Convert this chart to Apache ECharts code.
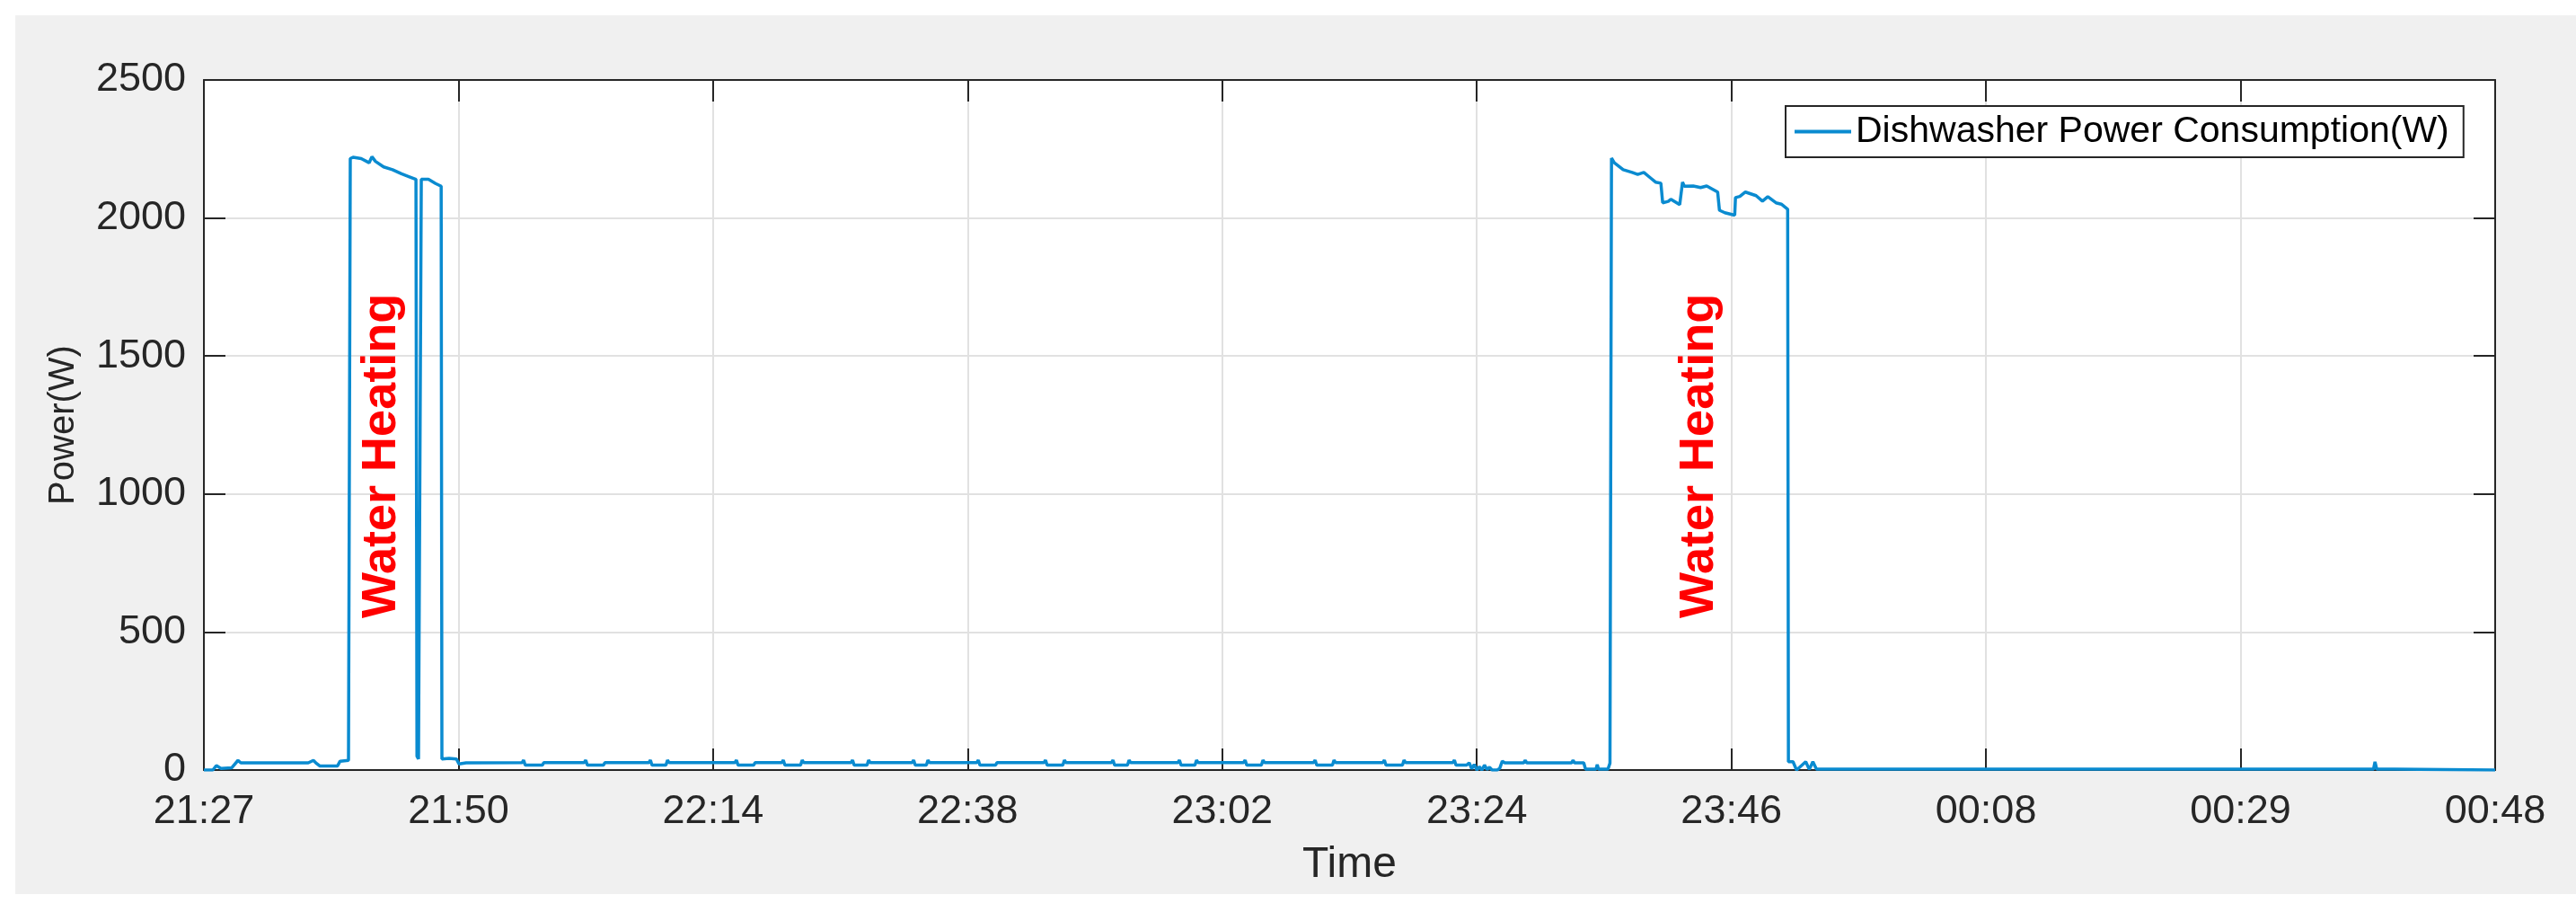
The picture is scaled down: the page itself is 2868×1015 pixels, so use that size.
<!DOCTYPE html>
<html>
<head>
<meta charset="utf-8">
<title>Dishwasher Power Consumption</title>
<script src="https://cdn.jsdelivr.net/npm/echarts/dist/echarts.min.js"></script>
<style>
    html, body { margin: 0; padding: 0; background: #ffffff; }
    #chart { position: absolute; left: 17px; top: 17px; width: 2851px; height: 978px; }
</style>
</head>
<body>
<div id="chart"></div>
<script>
    // x axis = sample index (0..900), ticks every 100 samples carry these clock labels
    const xTickLabels = ['21:27', '21:50', '22:14', '22:38', '23:02', '23:24', '23:46', '00:08', '00:29', '00:48']

    // [sample, watts]
    const startIdle = [
        [0, 0], [3.5, 0], [4.9, 16], [6.7, 6], [10.9, 8], [13.4, 35], [14.5, 26], [41, 26], [43, 35], [44, 26],
        [45.5, 15], [52.5, 15], [53.5, 32], [56.8, 35]
    ]
    const heatingOne = [
        [57.5, 2215], [58.6, 2220], [61.8, 2215], [64.9, 2200], [66, 2222], [67.4, 2205], [70.6, 2185], [74.1, 2175],
        [77.6, 2160], [80.5, 2150], [83.3, 2140], [83.7, 50], [84.3, 40], [85, 40], [85.4, 2140], [88.2, 2140],
        [91, 2125], [93.2, 2115]
    ]
    const idleBetween = [
        [93.5, 40], [96.3, 42], [99.2, 40], [100.2, 22], [103, 26],
        [125, 27], [125.6, 36], [126.2, 18], [133, 18], [133.5, 27],
        [149.4, 27], [150, 36], [150.6, 18], [157, 18], [157.5, 27],
        [174.8, 27], [175.4, 36], [176, 18], [181.5, 18], [182.1, 36], [182.7, 27],
        [208.6, 27], [209.2, 36], [209.8, 18], [216, 18], [216.5, 27],
        [227, 27], [227.6, 36], [228.2, 18], [234.4, 18], [235, 36], [235.6, 27],
        [254.2, 27], [254.8, 36], [255.4, 18], [260.5, 18], [261.1, 36], [261.7, 27],
        [278.2, 27], [278.8, 36], [279.4, 18], [283.8, 18], [284.4, 36], [285, 27],
        [303.6, 27], [304.2, 36], [304.8, 18], [311, 18], [311.5, 27],
        [330, 27], [330.6, 36], [331.2, 18], [337.4, 18], [338, 36], [338.6, 27],
        [356.5, 27], [357.1, 36], [357.7, 18], [362.8, 18], [363.4, 36], [364, 27],
        [382.6, 27], [383.2, 36], [383.8, 18], [389.3, 18], [389.9, 36], [390.5, 27],
        [408.4, 27], [409, 36], [409.6, 18], [415.4, 18], [416, 36], [416.6, 27],
        [435.9, 27], [436.5, 36], [437.1, 18], [443.3, 18], [443.9, 36], [444.5, 27],
        [463.1, 27], [463.7, 36], [464.3, 18], [470.8, 18], [471.4, 36], [472, 27],
        [490.6, 27], [491.2, 36], [491.8, 18], [496, 18], [497, 26],
        [498, 5], [499, 20], [500, 0], [501, 12], [502, 0], [503, 18], [504, 2], [505, 10], [506, 0], [508, 0],
        [509, 6], [510, 32], [511, 26],
        [518.4, 26], [519, 35], [519.6, 26], [537.2, 26], [537.8, 35], [538.4, 26], [542, 26], [542.7, 3],
        [546.8, 3], [547.3, 20], [547.8, 3], [551.5, 3], [552.3, 25]
    ]
    const heatingTwo = [
        [552.9, 2217], [554, 2200], [557.5, 2175], [561, 2165], [563.2, 2158], [565.6, 2165], [568.1, 2146],
        [570.2, 2130], [572.3, 2126], [573, 2055], [575.2, 2060], [576.2, 2068], [579.7, 2048], [580.8, 2130],
        [581.5, 2115], [585, 2116], [587.9, 2110], [590.3, 2116], [594.6, 2094], [595.3, 2028], [597.4, 2019],
        [601.3, 2010], [601.6, 2074], [603.3, 2078], [605.5, 2094], [609.7, 2081], [612.2, 2061], [614.3, 2077],
        [617.5, 2055], [619.6, 2050], [622.1, 2032]
    ]
    const idleAfter = [
        [622.4, 30], [624.2, 30], [625.6, 0], [629.2, 30], [630.6, 2], [632, 30], [633.4, 3],
        [852.2, 3], [852.8, 30], [853.5, 3], [860.5, 3], [861.2, 0], [900, 0]
    ]

    // red annotations, placed in data coordinates [sample, watts]
    const heatingNotes = [
        {text: 'Water Heating', at: [70, 1138]},
        {text: 'Water Heating', at: [587.5, 1138]}
    ]

    const font = "'Liberation Sans', Arial, Helvetica, sans-serif"
    const axisColor = '#262626'
    const gridColor = '#e1e1e1'

    let chart = echarts.init(document.getElementById('chart'))

    let tickStyle = {show: true, inside: true, length: 24, lineStyle: {color: axisColor, width: 2}}
    let lineStyle = {show: true, onZero: false, lineStyle: {color: axisColor, width: 2}}

    let option = {
        backgroundColor: '#f0f0f0',
        animation: false,
        grid: {
            left: 210, top: 72, right: 90, bottom: 138,
            show: true, backgroundColor: '#ffffff', borderWidth: 0
        },
        legend: {
            left: 1971, top: 101,
            padding: [8, 16, 8, 10],
            borderColor: axisColor, borderWidth: 2,
            backgroundColor: '#ffffff',
            icon: 'rect', itemWidth: 63, itemHeight: 4,
            textStyle: {fontFamily: font, fontSize: 41, color: '#000000'}
        },
        xAxis: [{
            type: 'value', min: 0, max: 900, interval: 100, position: 'bottom',
            name: 'Time', nameLocation: 'middle', nameGap: 82,
            nameTextStyle: {fontFamily: font, fontSize: 48, color: axisColor},
            axisLine: lineStyle, axisTick: tickStyle,
            axisLabel: {
                margin: 24, fontFamily: font, fontSize: 45, color: axisColor,
                formatter: v => xTickLabels[Math.round(v / 100)]
            },
            splitLine: {show: true, lineStyle: {color: gridColor, width: 2}}
        }, {
            type: 'value', min: 0, max: 900, interval: 100, position: 'top',
            axisLine: lineStyle, axisTick: tickStyle,
            axisLabel: {show: false}, splitLine: {show: false}
        }],
        yAxis: [{
            type: 'value', min: 0, max: 2500, interval: 500, position: 'left',
            name: 'Power(W)', nameLocation: 'middle', nameGap: 136,
            nameTextStyle: {fontFamily: font, fontSize: 40, color: axisColor},
            axisLine: lineStyle, axisTick: tickStyle,
            axisLabel: {
                margin: 20, fontFamily: font, fontSize: 45, color: axisColor,
                formatter: v => String(v)
            },
            splitLine: {show: true, lineStyle: {color: gridColor, width: 2}}
        }, {
            type: 'value', min: 0, max: 2500, interval: 500, position: 'right',
            axisLine: lineStyle, axisTick: tickStyle,
            axisLabel: {show: false}, splitLine: {show: false}
        }],
        series: [{
            name: 'Dishwasher Power Consumption(W)',
            type: 'line',
            xAxisIndex: 0, yAxisIndex: 0,
            showSymbol: false,
            data: [].concat(startIdle, heatingOne, idleBetween, heatingTwo, idleAfter),
            color: '#0a8bd0',
            lineStyle: {color: '#0a8bd0', width: 3.5}
        }]
    }
    chart.setOption(option)

    // annotations need the pixel position of their data point
    let notes = heatingNotes.map((item, i) => {
        let p = chart.convertToPixel({xAxisIndex: 0, yAxisIndex: 0}, item.at)
        return {
            type: 'text', id: 'note' + i, x: p[0], y: p[1], rotation: Math.PI / 2, z: 100,
            style: {
                text: item.text, fill: '#ff0000',
                font: 'bold 54px ' + font,
                align: 'center', verticalAlign: 'middle'
            }
        }
    })
    chart.setOption({graphic: notes})
</script>
</body>
</html>
